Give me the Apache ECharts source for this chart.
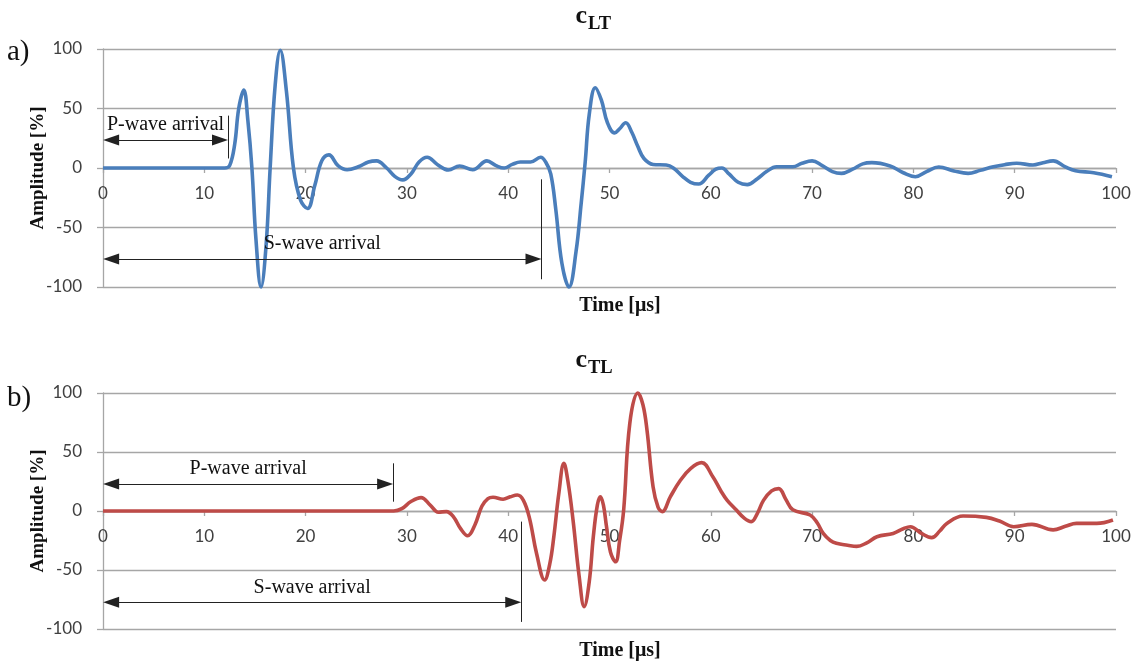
<!DOCTYPE html>
<html>
<head>
<meta charset="utf-8">
<script src="https://cdn.jsdelivr.net/npm/echarts@6/dist/echarts.min.js"></script>
<style>html,body{margin:0;padding:0;background:#fff}#c{width:1136px;height:662px}</style>
</head>
<body>
<div id="c"></div>
<script>
// ---- data (time in µs, amplitude in %) ----
const timeLT = [0,3,6,9,12.0,12.5,13.0,13.4,13.9,14.3,14.7,15.1,15.6,16.1,16.5,17.0,17.5,18.1,18.8,19.5,20.2,20.9,21.6,22.3,23.2,24.1,25.2,26.2,27.0,28.0,28.8,29.6,30.4,31.2,32.0,33.0,34.1,35.2,36.5,37.9,38.8,39.6,40.4,41.2,42.2,43.2,43.7,44.2,44.7,45.3,46.0,46.7,47.2,47.6,48.0,48.6,49.2,49.8,50.5,51.0,51.6,52.2,52.8,53.4,54.3,55.6,56.3,57.2,58.0,58.8,59.8,60.5,61.1,61.8,62.7,63.6,64.6,65.5,66.5,68.1,69.0,70.0,71.0,72.0,72.9,74.0,75.0,75.9,77.7,79.0,80.2,81.3,82.5,84.0,85.4,86.6,87.9,89.0,90.2,91.8,92.8,93.8,95.0,96.0,97.8,99.6];
const ampLT  = [0,0,0,0,0,2,20,50,65.5,40,0,-60,-100,-65,0,70,99,65,0,-27,-34,-15,6,11,2,-1.5,1,5,6,0,-7,-10,-5,5,9,3,-1.7,1.7,-1.5,6,2,0,3,5,5,9,5,-5,-35,-80,-100,-70,-30,5,45,67.5,57,38,29.5,33,38,30,18,8,3,2.5,0,-7,-12,-13.5,-6,-1,0,-5,-12,-14,-9,-3,1,1,4,6,2,-3,-4.5,-1,3.5,4.5,1.7,-4,-7.3,-3,0.8,-2.5,-4.5,-2,1,2.8,4,2.5,4.5,6,1,-2.3,-4,-7.3];

const timeTL = [0,5,10,15,20,25,28.7,29.5,30.4,31.4,32.3,33.1,33.9,34.6,35.3,36.0,36.7,37.4,38.0,38.5,39.5,40.2,40.9,41.5,42.1,42.8,43.6,44.1,44.5,45.0,45.5,45.9,46.4,47.0,47.5,48.0,48.4,48.8,49.1,49.4,49.7,50.1,50.6,51.0,51.4,52.0,52.8,53.3,53.7,54.3,54.8,55.2,56.0,57.0,58.0,59.1,60.2,61.0,61.6,62.5,63.3,64.0,64.6,65.2,66.0,66.7,67.4,68.1,69.8,70.5,71.1,71.8,72.4,73.5,74.4,75.4,76.4,78.0,79.0,79.7,80.8,81.8,82.6,83.3,84.9,87.2,88.5,89.9,91.7,93.8,95.0,96.1,98.1,99.7];
const ampTL  = [0,0,0,0,0,0,0,2,8,11.3,5,-1,-0.5,-5,-15,-21,-12,4,10.5,11.6,10,12,13.5,9,-6,-36,-58.5,-45,-22,15,40.4,25,-7.6,-55,-81,-60,-22,5,12,5,-13,-35,-43,-25,1,74,100,90,68.6,20.6,3,-0.5,12,26,36,41,29,17,9.3,1,-6,-9,-2,9,17,19,10,1,-3.4,-10,-19,-25,-27.4,-29,-30,-27,-21.8,-19,-15,-13.3,-19,-22.6,-17,-10.5,-4.2,-5.4,-8.5,-13.3,-11.3,-16,-13,-10.5,-10.5,-7.6];

// arrival annotations: [arrow level, arrival time, tick top, tick bottom]
const arrivalLT_P = [23.5, 12.35, 44, 8];
const arrivalLT_S = [-76.5, 43.3, -9.5, -93.5];
const arrivalTL_P = [22.9, 28.65, 40.4, 7.9];
const arrivalTL_S = [-77.4, 41.3, -9, -94];

const xTicks = {min: 0, max: 100, interval: 10};
const yTicks = {min: -100, max: 100, interval: 50};

const labelsP = 'P-wave arrival', labelsS = 'S-wave arrival';

function pairs(t, a) { return t.map((v, i) => [v, a[i]]); }

const gridCol = '#a6a6a6';
const tickFont = {fontFamily: 'Lato', fontSize: 17, color: '#404040'};
const serif = 'Liberation Serif';
const arrowInset = 0.8; // half arrow-head length in axis units, so tips touch the ends

function arrivalLines(p, s) {
  const arrowItem = (arr, name) => [
    {coord: [arrowInset, arr[0]], symbol: 'triangle', name: name,
     label: {show: true, formatter: name, position: 'middle', distance: 5,
             fontFamily: serif, fontSize: 20, color: '#111'}},
    {coord: [arr[1] - arrowInset, arr[0]], symbol: 'triangle'}
  ];
  const tickItem = (arr) => [
    {coord: [arr[1], arr[2]], symbol: 'none', label: {show: false}},
    {coord: [arr[1], arr[3]], symbol: 'none'}
  ];
  return {
    silent: true,
    animation: false,
    symbolSize: [11, 16],
    lineStyle: {color: '#222', width: 1, type: 'solid'},
    label: {show: false},
    emphasis: {disabled: true},
    data: [arrowItem(p, labelsP), tickItem(p), arrowItem(s, labelsS), tickItem(s)]
  };
}

function xAxisCfg(gi, half) {
  return {
    type: 'value', gridIndex: gi, min: xTicks.min, max: xTicks.max, interval: xTicks.interval,
    position: 'bottom', offset: -half,
    axisLine: {onZero: false, lineStyle: {color: gridCol, width: 1.3}},
    axisTick: {show: true, length: 5, lineStyle: {color: gridCol, width: 1.3}},
    axisLabel: Object.assign({margin: 17}, tickFont),
    splitLine: {show: false}
  };
}
function yAxisCfg(gi) {
  return {
    type: 'value', gridIndex: gi, min: yTicks.min, max: yTicks.max, interval: yTicks.interval,
    name: 'Amplitude [%]', nameLocation: 'middle', nameRotate: 90, nameGap: 55, nameMoveOverlap: false,
    nameTextStyle: {fontFamily: serif, fontWeight: 'bold', fontSize: 19, color: '#111'},
    axisLine: {show: true, lineStyle: {color: gridCol, width: 1.3}},
    axisTick: {show: true, length: 6, lineStyle: {color: gridCol, width: 1.3}},
    axisLabel: Object.assign({margin: 21}, tickFont),
    splitLine: {show: true, lineStyle: {color: gridCol, width: 1.3}}
  };
}

const chart = echarts.init(document.getElementById('c'), null, {renderer: 'canvas'});
const txt = (text, x, y, font, align, va) => ({
  type: 'text', x: x, y: y, silent: true,
  style: {text: text, font: font, fill: '#111', align: align || 'center', verticalAlign: va || 'middle'}
});
chart.setOption({
  animation: false,
  backgroundColor: '#fff',
  grid: [
    {left: 103, right: 20, top: 49, height: 238},
    {left: 103, right: 20, top: 393, height: 236}
  ],
  xAxis: [xAxisCfg(0, 119), xAxisCfg(1, 118)],
  yAxis: [yAxisCfg(0), yAxisCfg(1)],
  series: [
    {type: 'line', xAxisIndex: 0, yAxisIndex: 0, data: pairs(timeLT, ampLT), smooth: 0.4,
     showSymbol: false, clip: false, lineStyle: {color: '#4a7ebb', width: 3.6},
     markLine: arrivalLines(arrivalLT_P, arrivalLT_S)},
    {type: 'line', xAxisIndex: 1, yAxisIndex: 1, data: pairs(timeTL, ampTL), smooth: 0.4,
     showSymbol: false, clip: false, lineStyle: {color: '#be4b48', width: 3.6},
     markLine: arrivalLines(arrivalTL_P, arrivalTL_S)}
  ],
  graphic: [
    txt('c', 587, 29.5, 'bold 26px "Liberation Serif"', 'right', 'bottom'),
    txt('LT', 588, 33.5, 'bold 18.5px "Liberation Serif"', 'left', 'bottom'),
    txt('c', 587, 373.5, 'bold 26px "Liberation Serif"', 'right', 'bottom'),
    txt('TL', 588, 378, 'bold 18.5px "Liberation Serif"', 'left', 'bottom'),
    txt('Time [μs]', 620, 306, 'bold 20px "Liberation Serif"'),
    txt('Time [μs]', 620, 651, 'bold 20px "Liberation Serif"'),
    txt('a)', 7, 52, '29px "Liberation Serif"', 'left'),
    txt('b)', 7, 398, '29px "Liberation Serif"', 'left')
  ]
});
</script>
</body>
</html>
